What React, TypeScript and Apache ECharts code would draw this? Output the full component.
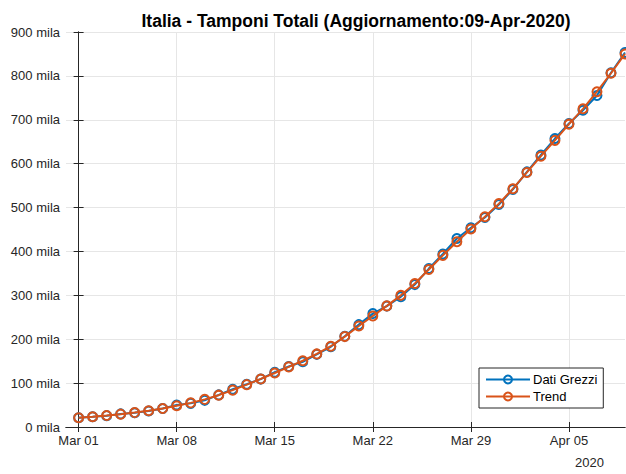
import React, { useEffect, useRef } from "react";
import * as echarts from "echarts";

const dayLabels = ["Mar 01", "Mar 08", "Mar 15", "Mar 22", "Mar 29", "Apr 05"];
const tickDays = [0, 7, 14, 21, 28, 35];

// Mar 01 .. Apr 09 (daily)
const rawData = [
  21127, 23345, 25856, 29837, 32362, 36359, 42062, 49937, 53826, 60761,
  73154, 86011, 97488, 109170, 124899, 137962, 148657, 165541, 182777, 206886,
  233222, 258402, 275468, 296964, 324445, 361060, 394079, 429526, 454030, 477359,
  506968, 541314, 581232, 619849, 657224, 691461, 721732, 755445, 807125, 853369,
];
const trendData = [
  21000, 23500, 26200, 29300, 32800, 36900, 42000, 48500, 55000, 63000,
  72500, 84000, 96500, 109500, 123000, 137000, 151000, 166500, 184000, 206000,
  230000, 253000, 276000, 300000, 327000, 359000, 391000, 422000, 451000, 479000,
  509000, 543000, 580000, 617000, 653000, 690000, 725000, 764000, 806000, 850000,
];

const BLUE = "#0072BD";
const ORANGE = "#D95319";
const AX = "#262626";
const FONT = "Liberation Sans, Arial, Helvetica, sans-serif";

export default function App() {
  const ref = useRef<HTMLDivElement>(null);
  useEffect(() => {
    if (!ref.current) return;
    const chart = echarts.init(ref.current, undefined, { renderer: "svg" });
    const raw = rawData.map((v, i) => [i, v]);
    const trend = trendData.map((v, i) => [i, v]);
    const fmtY = (v: number) => `${Math.round(v / 1000)} mila`;
    chart.setOption({
      animation: false,
      backgroundColor: "#ffffff",
      textStyle: { fontFamily: FONT },
      title: {
        text: "Italia - Tamponi Totali (Aggiornamento:09-Apr-2020)",
        left: 351,
        textAlign: "center",
        top: 7,
        textStyle: { fontFamily: FONT, fontSize: 17.5, fontWeight: "bold", color: "#000" },
      },
      grid: { left: 66, right: 1, top: 32, bottom: 47, containLabel: false },
      xAxis: [
        {
          type: "value",
          min: -0.9,
          max: 39,
          axisLine: { show: true, lineStyle: { color: AX, width: 1 } },
          axisTick: { show: true, inside: true, length: 5, customValues: tickDays, lineStyle: { color: AX } },
          axisLabel: {
            customValues: tickDays,
            formatter: (v: number) => dayLabels[tickDays.indexOf(Math.round(v))] ?? "",
            color: AX,
            fontSize: 13,
            fontFamily: FONT,
            margin: 7,
          },
          splitLine: { show: true, lineStyle: { color: "#e6e6e6", width: 1 } },
        },
        {
          type: "value",
          position: "top",
          min: -0.9,
          max: 39,
          axisLine: { show: true, lineStyle: { color: AX, width: 1 } },
          axisTick: { show: true, inside: true, length: 5, customValues: tickDays, lineStyle: { color: AX } },
          axisLabel: { show: false },
          splitLine: { show: false },
        },
      ],
      yAxis: [
        {
          type: "value",
          min: 0,
          max: 900000,
          interval: 100000,
          axisLine: { show: true, lineStyle: { color: AX, width: 1 } },
          axisTick: { show: true, inside: true, length: 5, lineStyle: { color: AX } },
          axisLabel: { formatter: fmtY, color: AX, fontSize: 13, fontFamily: FONT, margin: 6 },
          splitLine: { show: true, lineStyle: { color: "#e6e6e6", width: 1 } },
        },
        {
          type: "value",
          position: "right",
          min: 0,
          max: 900000,
          interval: 100000,
          axisLine: { show: true, lineStyle: { color: AX, width: 1 } },
          axisTick: { show: true, inside: true, length: 5, lineStyle: { color: AX } },
          axisLabel: { show: false },
          splitLine: { show: false },
        },
      ],
      legend: {
        orient: "vertical",
        left: 479,
        top: 368,
        width: 134,
        itemWidth: 44,
        itemHeight: 10,
        itemGap: 4,
        padding: [5, 6, 5, 6],
        backgroundColor: "#ffffff",
        borderColor: AX,
        borderWidth: 1,
        borderRadius: 0,
        textStyle: { fontFamily: FONT, fontSize: 13, color: "#000", padding: [0, 0, 0, -2] },
        data: [{ name: "Dati Grezzi" }, { name: "Trend" }],
      },
      graphic: [
        {
          type: "text",
          left: 575,
          top: 456,
          style: { text: "2020", font: `13px ${FONT}`, fill: AX },
        },
      ],
      series: [
        {
          name: "Dati Grezzi",
          type: "line",
          data: raw,
          color: BLUE,
          symbol: "circle",
          symbolSize: 9,
          lineStyle: { color: BLUE, width: 2 },
          itemStyle: { color: "rgba(255,255,255,0)", borderColor: BLUE, borderWidth: 2 },
          z: 2,
        },
        {
          name: "Trend",
          type: "line",
          data: trend,
          color: ORANGE,
          symbol: "circle",
          symbolSize: 9,
          lineStyle: { color: ORANGE, width: 2 },
          itemStyle: { color: "rgba(255,255,255,0)", borderColor: ORANGE, borderWidth: 2 },
          z: 3,
        },
      ],
    });
    return () => chart.dispose();
  }, []);
  return (
    <div
      ref={ref}
      style={{ position: "absolute", left: 0, top: 0, width: 626, height: 474 }}
    />
  );
}
